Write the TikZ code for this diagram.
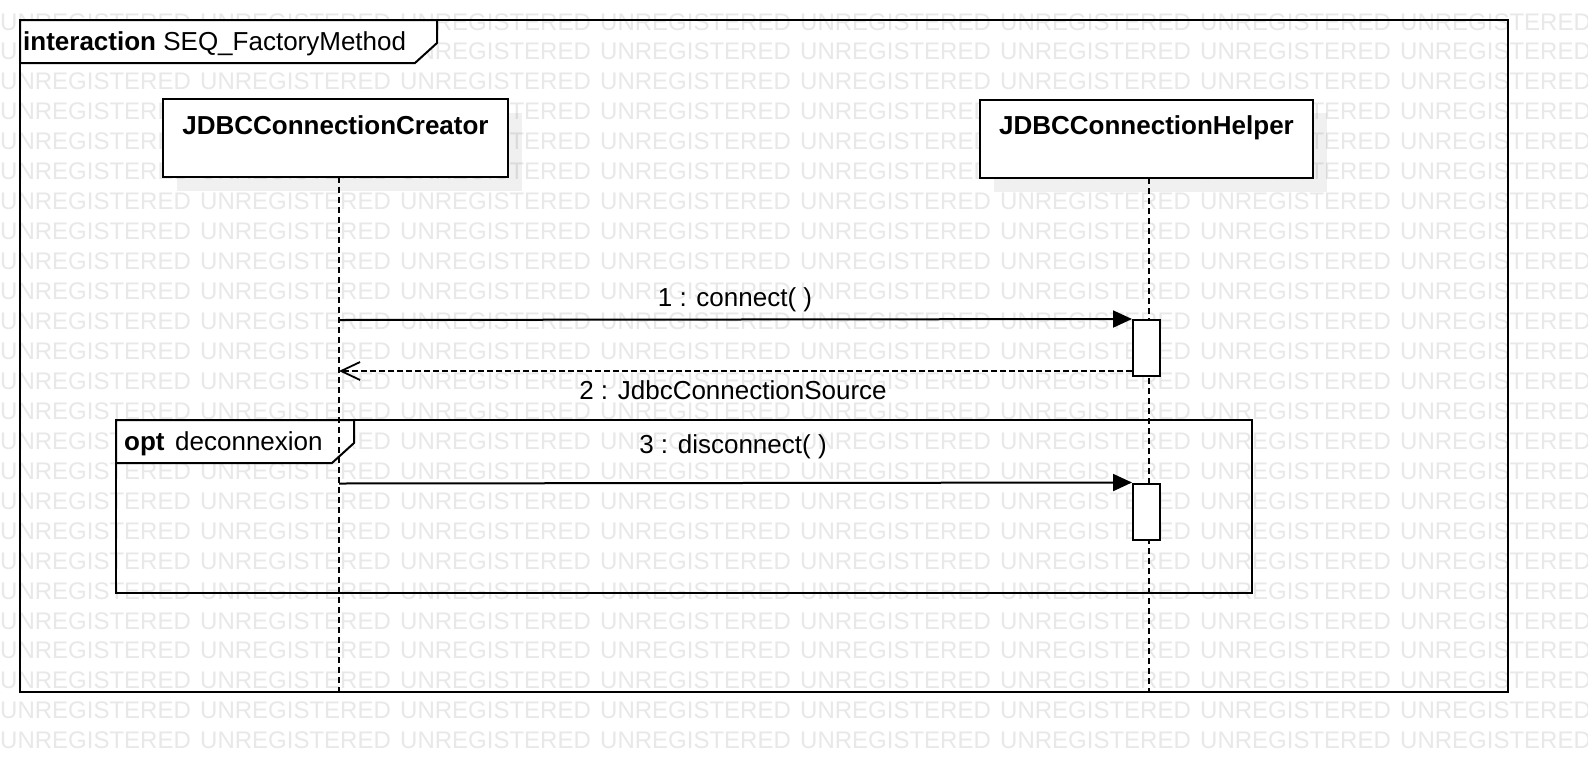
\documentclass[tikz,border=0pt]{standalone}
\usepackage{fontspec}
\setmainfont{Liberation Sans}
\usetikzlibrary{arrows.meta}
\begin{document}
\begin{tikzpicture}[x=1pt,y=-1pt,
  wm/.style={font=\fontsize{24}{24}\selectfont, text=black!9, inner sep=0pt, anchor=base west},
  txt/.style={font=\fontsize{26}{27}\selectfont, inner sep=0pt},
  boldtxt/.style={font=\fontsize{26}{27}\selectfont\bfseries, inner sep=0pt},
  frameline/.style={draw=black, line width=2pt},
  tabbox/.style={draw=black, fill=white, line width=2pt, line join=miter},
  headbox/.style={draw=black, fill=white, line width=2pt, minimum height=78pt, inner sep=0pt},
  shadowbox/.style={fill=black, opacity=0.06},
  actbox/.style={draw=black, fill=white, line width=2pt, minimum width=27pt, minimum height=56pt, inner sep=0pt},
  lifeline/.style={draw=black, line width=2pt, dash pattern=on 6pt off 4pt},
  msgline/.style={draw=black, line width=2pt, -{Triangle[length=19pt,width=17pt]}},
  retline/.style={draw=black, line width=2pt, dash pattern=on 6pt off 3pt, -{Straight Barb[length=19pt,width=18pt,line width=1.8pt]}}
]
\useasboundingbox (0,0) rectangle (1588,772);
\fill[white] (0,0) rectangle (1588,772);

% watermark
\foreach \r in {0,...,24}{
  \foreach \c in {0,...,7}{
    \node[wm] (wm-\r-\c) at ({200*\c},{30+29.95*\r}) {UNREGISTERED};
  }
}

% shadows of lifeline heads
\fill[shadowbox] (177,113) rectangle (522,191);
\fill[shadowbox] (994,113) rectangle (1327,192);

% outer interaction frame
\draw[frameline] (20,20) rectangle (1508,692);
\draw[tabbox] (20,20) -- (437,20) -- (437,43) -- (415,63) -- (20,63) -- cycle;
\node[boldtxt, anchor=base west] (title) at (23,50) {interaction\mdseries\ SEQ\_FactoryMethod};

% opt fragment
\draw[frameline] (116,420) rectangle (1252,593);
\draw[tabbox] (116,420) -- (354,420) -- (354,443) -- (332,463) -- (116,463) -- cycle;
\node[boldtxt, anchor=base west] (optkw) at (124,450) {opt};
\node[txt, anchor=base west] (optname) at (175,450) {deconnexion};

% lifelines
\coordinate (l1top) at (339,177);
\coordinate (l1bot) at (339,692);
\coordinate (l2top) at (1149,178);
\coordinate (l2bot) at (1149,692);
\draw[lifeline] (l1top) -- (l1bot);
\draw[lifeline] (l2top) -- (l2bot);

% lifeline heads
\node[headbox, minimum width=345pt] (creator) at (335.5,138) {};
\node[boldtxt, anchor=base] (creatorlbl) at (335.5,134) {JDBCConnectionCreator};
\node[headbox, minimum width=333pt] (helper) at (1146.5,138.5) {};
\node[boldtxt, anchor=base] (helperlbl) at (1146.5,134) {JDBCConnectionHelper};

% activations
\node[actbox] (act1) at (1146.5,348) {};
\node[actbox] (act2) at (1146.5,511.5) {};

% messages
\coordinate (m1s) at (339,320);
\draw[msgline] (m1s) -- (act1.north west);
\node[txt, anchor=base] (m1lbl) at (735,306.5) {1 : connect( )};

\coordinate (m2e) at (339,371);
\draw[retline] (act1.west |- m2e) -- (m2e);
\node[txt, anchor=base] (m2lbl) at (733,399) {2 : JdbcConnectionSource};

\coordinate (m3s) at (339,483.5);
\draw[msgline] (m3s) -- (act2.north west);
\node[txt, anchor=base] (m3lbl) at (733,453) {3 : disconnect( )};
\end{tikzpicture}
\end{document}
